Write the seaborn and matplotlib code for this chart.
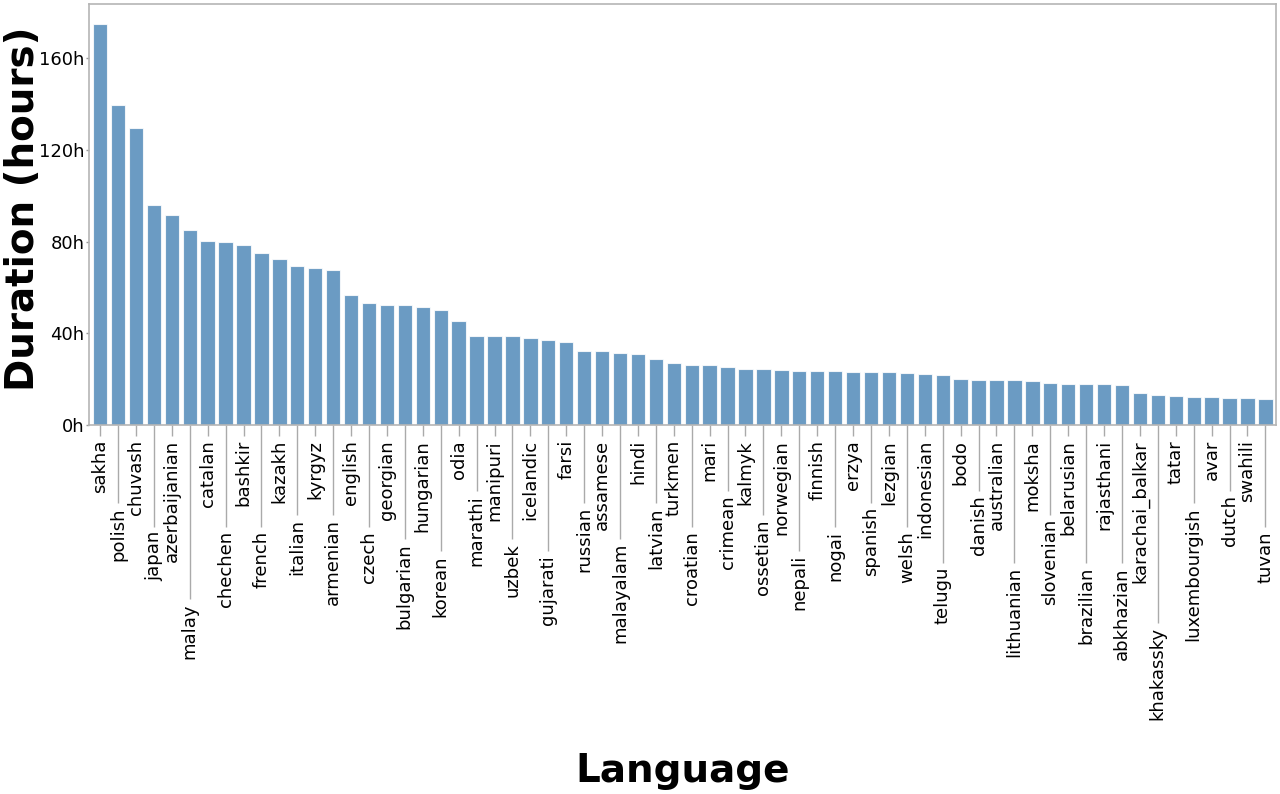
import matplotlib
matplotlib.use('Agg')
import matplotlib.pyplot as plt
import seaborn as sns
import pandas as pd

languages = [
    'sakha', 'polish', 'chuvash', 'japan', 'azerbaijanian', 'malay',
    'catalan', 'chechen', 'bashkir', 'french', 'kazakh', 'italian',
    'kyrgyz', 'armenian', 'english', 'czech', 'georgian', 'bulgarian',
    'hungarian', 'korean', 'odia', 'marathi', 'manipuri', 'uzbek',
    'icelandic', 'gujarati', 'farsi', 'russian', 'assamese', 'malayalam',
    'hindi', 'latvian', 'turkmen', 'croatian', 'mari', 'crimean',
    'kalmyk', 'ossetian', 'norwegian', 'nepali', 'finnish', 'nogai',
    'erzya', 'spanish', 'lezgian', 'welsh', 'indonesian', 'telugu',
    'bodo', 'danish', 'australian', 'lithuanian', 'moksha', 'slovenian',
    'belarusian', 'brazilian', 'rajasthani', 'abkhazian', 'karachai_balkar',
    'khakassky', 'tatar', 'luxembourgish', 'avar', 'dutch', 'swahili', 'tuvan',
]
hours = [
    174.8, 139.4, 129.5, 96.0, 91.6, 85.2,
    80.2, 79.8, 78.5, 74.8, 72.2, 69.3,
    68.6, 67.7, 56.7, 53.1, 52.3, 52.2,
    51.6, 50.0, 45.5, 39.0, 38.9, 38.8,
    37.8, 37.2, 36.0, 32.3, 32.1, 31.2,
    30.9, 28.9, 27.2, 26.3, 26.3, 25.1,
    24.5, 24.3, 24.0, 23.7, 23.7, 23.5,
    23.0, 23.0, 22.9, 22.5, 22.4, 21.9,
    19.9, 19.8, 19.5, 19.5, 19.0, 18.5,
    18.0, 18.0, 17.7, 17.6, 13.8,
    13.1, 12.5, 12.1, 12.1, 11.9, 11.6, 11.3,
]
y_ticks = [0, 40, 80, 120, 160]

df = pd.DataFrame({'language': languages, 'hours': hours})

sns.set_style('white')
plt.rcParams['font.family'] = ['DejaVu Sans']
plt.rcParams['text.color'] = 'black'
plt.rcParams['axes.labelcolor'] = 'black'

fig, ax = plt.subplots(figsize=(12.8, 7.94), dpi=100)
fig.subplots_adjust(left=0.0698, right=0.997, top=0.995, bottom=0.4647)

sns.barplot(
    data=df, x='language', y='hours', color='steelblue', saturation=1,
    alpha=0.8, width=0.8, edgecolor='white', linewidth=0.8, ax=ax,
)

ax.set_xlim(-0.6, len(languages) - 0.4)
ax.set_ylim(0, max(hours) * 1.05)
ax.set_yticks(y_ticks)
ax.set_yticklabels([f'{v}h' for v in y_ticks], fontsize=13)

for side in ['left', 'right', 'top', 'bottom']:
    ax.spines[side].set_color('#b5b5b5')
    ax.spines[side].set_linewidth(1.2)

ax.tick_params(axis='y', left=True, length=2.5, width=1, color='#999999',
               labelcolor='black', pad=1)
ax.tick_params(axis='x', bottom=True, length=8, width=1, color='#aaaaaa',
               labelcolor='black')
ax.set_xticks(range(len(languages)))
ax.set_xticklabels(languages, rotation=90, fontsize=13)

# stagger labels: odd labels pushed below the previous label
for i, tick in enumerate(ax.xaxis.get_major_ticks()):
    if i % 2 == 0:
        px = 15
    else:
        px = 22 + 12 * len(languages[i - 1])
    pt = px * 0.72
    tick.set_pad(pt - 8)
    tick.tick1line.set_markersize(pt - 3)

ax.set_xlabel('Language', fontsize=28, fontweight='bold')
ax.xaxis.label.set_va('center')
ax.xaxis.set_label_coords(0.5, -0.822)
ax.set_ylabel('Duration (hours)', fontsize=28, fontweight='bold')
ax.yaxis.set_label_coords(-0.04, 0.514)

fig.savefig('out.png', dpi=100)
plt.close()
